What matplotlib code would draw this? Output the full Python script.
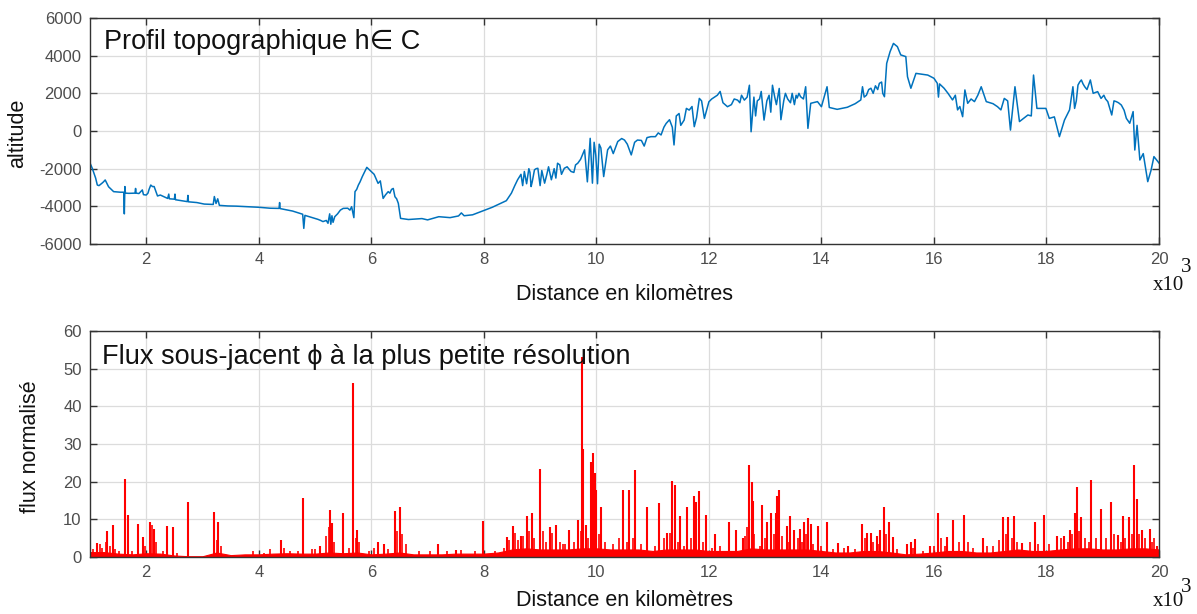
# -*- coding: utf-8 -*-
import numpy as np
import matplotlib
matplotlib.use('Agg')
import matplotlib.pyplot as plt
from matplotlib import rcParams

rcParams.update({'font.size': 10,
                 'font.family': ['Liberation Sans', 'DejaVu Sans'],
                 'axes.unicode_minus': False})

#-topographic profile (distance in 10^3 km, altitude in m)
prof_x = [1.00, 1.04, 1.10, 1.13, 1.21, 1.27, 1.33, 1.42, 1.54, 1.60, 1.61, 1.62, 1.63, 1.69,
          1.80, 1.81, 1.82, 1.87, 1.93, 1.95, 2.00, 2.05, 2.08, 2.14, 2.20, 2.38, 2.40, 2.41,
          2.50, 2.51, 2.52, 2.73, 2.74, 2.75, 3.03, 3.19, 3.21, 3.24, 3.27, 3.30, 3.60, 4.00,
          4.36, 4.37, 4.38, 4.60, 4.78, 4.80, 4.82, 5.05, 5.14, 5.20, 5.23, 5.26, 5.28, 5.30,
          5.32, 5.35, 5.50, 5.65, 5.69, 5.71, 5.77, 5.84, 5.92, 6.00, 6.12, 6.21, 6.30, 6.36,
          6.42, 6.48, 6.52, 6.66, 6.90, 7.20, 7.55, 7.60, 7.65, 8.00, 8.31, 8.49, 8.60, 8.72,
          8.76, 8.80, 8.84, 8.90, 8.96, 9.00, 9.08, 9.15, 9.20, 9.31, 9.43, 9.55, 9.67, 9.79,
          9.89, 9.93, 9.96, 10.02, 10.08, 10.13, 10.20, 10.38, 10.50, 10.62, 10.73, 10.97,
          11.15, 11.24, 11.38, 11.47, 11.56, 11.65, 11.74, 11.83, 11.92, 12.00, 12.15, 12.33,
          12.51, 12.63, 12.72, 12.75, 12.86, 12.98, 13.13, 13.20, 13.25, 13.28, 13.40, 13.57,
          13.63, 13.72, 13.76, 13.81, 13.93, 14.00, 14.10, 14.14, 14.28, 14.46, 14.70, 14.73,
          14.80, 14.88, 15.03, 15.12, 15.16, 15.22, 15.28, 15.35, 15.41, 15.50, 15.53, 15.59,
          15.68, 15.89, 16.00, 16.06, 16.08, 16.10, 16.18, 16.33, 16.42, 16.51, 16.55, 16.60,
          16.72, 16.84, 16.93, 17.13, 17.19, 17.25, 17.31, 17.36, 17.44, 17.52, 17.67, 17.73,
          17.77, 17.83, 17.99, 18.05, 18.14, 18.23, 18.32, 18.41, 18.47, 18.50, 18.56, 18.62,
          18.68, 18.78, 18.83, 18.91, 18.97, 19.09, 19.16, 19.24, 19.33, 19.42, 19.48, 19.54,
          19.57, 19.61, 19.66, 19.72, 19.80, 19.86, 19.91, 19.98, 20.00]
prof_h = [-1700, -1980, -2500, -2870, -2780, -2600, -2960, -3220, -3250, -3250, -4400, -2950, -3300, -3310,
          -3300, -3050, -3300, -3320, -3130, -3380, -3400, -3100, -2870, -2950, -3450, -3580, -3350, -3600,
          -3620, -3350, -3650, -3750, -3420, -3760, -3880, -3900, -3480, -3850, -3600, -3950, -3990, -4050,
          -4110, -3800, -4120, -4250, -4420, -5170, -4480, -4690, -4810, -4750, -4900, -4400, -4950, -4500,
          -4850, -4550, -4110, -4020, -4600, -3220, -2870, -2420, -1930, -2160, -2780, -3580, -3220, -3100,
          -3490, -3840, -4640, -4700, -4650, -4550, -4510, -4350, -4500, -4220, -3830, -3300, -2590, -2150,
          -2800, -2000, -2950, -2060, -1980, -2900, -2770, -1900, -2590, -1710, -1980, -2150, -1710, -1000,
          -390, -2770, -600, -2800, -900, -2420, -1000, -560, -480, -1270, -480, -300,
          -210, 400, -740, 930, 580, 1110, 230, 1730, 670, 1550, 1900, 1290,
          1640, 1640, 2430, -40, 1600, 580, 2430, 1400, 2260, 600, 1700, 1750,
          1820, 2350, 140, 1470, 1560, 1290, 2350, 1250, 1150, 1260, 1650, 2350,
          1900, 2270, 2530, 1820, 3590, 4210, 4650, 4480, 4040, 3950, 2880, 2270,
          3060, 2970, 2800, 2530, 1800, 2500, 2270, 1650, 1120, 760, 2180, 1470,
          1560, 2350, 1560, 1290, 1120, 1730, 1600, 50, 2350, 500, 850, 800,
          2970, 1200, 1200, 670, 750, -300, 580, 1120, 2350, 1200, 2440, 2710,
          2350, 2710, 2000, 2090, 1730, 1560, 850, 1560, 1380, 670, 410, 1030,
          -1010, 300, -1540, -1200, -2690, -2070, -1360, -1630, -1700]

#-extra small wiggles of the profile read at a finer scale
detail_x = [1.16, 1.24, 2.03, 2.11, 2.25, 2.90, 3.45, 3.80, 4.20, 5.10, 5.40, 5.45, 5.58, 5.62,
            5.74, 5.80, 6.05, 6.16, 6.25, 6.33, 6.39, 6.45, 7.00, 7.40, 7.80, 8.15, 8.40, 8.55,
            8.66, 8.69, 8.82, 8.86, 8.93, 9.03, 9.12, 9.25, 9.28, 9.35, 9.38, 9.48, 9.60, 9.63,
            9.72, 9.84, 9.99, 10.05, 10.25, 10.30, 10.45, 10.55, 10.68, 10.80, 10.85, 10.90,
            11.05, 11.10, 11.20, 11.30, 11.35, 11.42, 11.50, 11.60, 11.70, 11.78, 11.87, 12.05,
            12.10, 12.20, 12.25, 12.40, 12.45, 12.55, 12.58, 12.68, 12.80, 12.83, 12.90, 12.93,
            13.03, 13.07, 13.10, 13.17, 13.33, 13.36, 13.45, 13.48, 13.52, 13.55, 13.60, 13.68,
            14.60, 14.76, 14.84, 14.92, 14.96, 15.00, 15.07, 15.09, 16.25, 16.38, 16.46, 16.66,
            16.78, 17.05, 18.53, 18.59, 18.65, 18.72, 19.02, 19.05, 19.20, 19.28, 19.38]
detail_h = [-2900, -2700, -3300, -2950, -3400, -3800, -3980, -4020, -4100, -4750, -4400, -4200, -4100, -4200,
            -3100, -2700, -2300, -2650, -3400, -3300, -3050, -3600, -4720, -4600, -4450, -4050, -3700, -2900,
            -2300, -2900, -2200, -2700, -2000, -2100, -2300, -2000, -2500, -1800, -2300, -1900, -2200, -1800,
            -1500, -2700, -1300, -700, -800, -1200, -400, -700, -600, -500, -800, -350,
            -300, -100, 200, 600, 200, 800, 300, 1200, 1300, 700, 1600, 1700,
            1800, 2100, 1500, 1400, 1700, 1500, 1900, 1800, 1800, 800, 1700, 2100,
            1600, 1900, 1000, 1800, 1600, 2000, 1500, 2000, 1400, 1900, 2000, 1700,
            1450, 1800, 2200, 2000, 2400, 2200, 2600, 2000, 2000, 1900, 1300, 1700,
            1900, 1450, 1600, 2600, 2500, 2200, 1900, 1700, 1600, 1500, 1100]

#-flux: large peaks
peak_x = [1.00, 1.12, 1.31, 1.41, 1.62, 1.67, 1.86, 1.94, 2.06, 2.14, 2.37, 2.47, 2.74, 3.21,
          3.28, 4.40, 4.79, 5.08, 5.27, 5.30, 5.49, 5.68, 5.74, 6.12, 6.22, 6.42, 6.51, 7.18,
          7.50, 7.98, 8.41, 8.51, 8.66, 8.76, 8.85, 8.99, 9.17, 9.28, 9.51, 9.68, 9.75, 9.76,
          9.82, 9.90, 9.94, 9.98, 10.00, 10.08, 10.47, 10.58, 10.69, 10.90, 11.12, 11.26, 11.34,
          11.39, 11.48, 11.61, 11.73, 11.77, 11.83, 11.95, 12.11, 12.36, 12.48, 12.60, 12.71,
          12.76, 12.78, 12.95, 13.04, 13.11, 13.19, 13.21, 13.24, 13.38, 13.45, 13.52, 13.62,
          13.69, 13.76, 13.81, 13.94, 14.10, 14.30, 14.47, 14.73, 14.81, 14.88, 14.98, 15.05,
          15.11, 15.20, 15.27, 15.52, 15.59, 15.67, 15.93, 16.07, 16.24, 16.34, 16.54, 16.88,
          17.22, 17.32, 17.43, 17.56, 17.79, 17.96, 18.18, 18.31, 18.41, 18.50, 18.55, 18.61,
          18.80, 18.97, 19.14, 19.28, 19.36, 19.46, 19.56, 19.61, 19.69, 19.84, 19.96]
peak_v = [2.4, 3.7, 7.0, 8.6, 20.7, 11.2, 8.8, 5.3, 9.4, 7.4, 8.1, 7.9, 14.7, 12.0,
          9.4, 4.6, 15.6, 3.0, 12.4, 9.0, 11.6, 46.1, 7.2, 4.1, 3.5, 12.2, 13.2, 3.4,
          1.9, 9.6, 5.3, 8.1, 5.6, 10.9, 11.8, 23.3, 7.9, 8.5, 7.2, 9.9, 53.0, 28.6,
          8.6, 25.3, 27.7, 22.2, 17.8, 13.4, 17.7, 17.7, 23.0, 13.4, 14.3, 6.4, 20.3,
          19.2, 10.9, 13.4, 16.1, 14.7, 17.4, 11.2, 6.1, 9.2, 7.2, 5.0, 24.4,
          20.0, 15.0, 13.9, 9.4, 11.6, 11.6, 16.1, 17.7, 8.3, 10.9, 7.2, 7.4,
          9.2, 10.3, 8.8, 8.3, 9.4, 3.7, 2.8, 8.8, 6.4, 6.5, 5.5, 7.2,
          13.4, 9.2, 5.3, 3.5, 4.1, 4.8, 3.0, 11.6, 5.2, 9.9, 11.2, 5.0,
          10.6, 10.6, 10.8, 3.7, 9.2, 11.2, 5.5, 5.5, 7.2, 11.6, 18.5, 10.6,
          20.5, 12.7, 14.7, 5.9, 10.8, 10.6, 24.4, 15.4, 7.1, 7.4, 2.8]

#-flux: small peaks in the background
small_x = [1.05, 1.18, 1.22, 1.28, 1.35, 1.45, 1.52, 1.75, 1.98, 2.10, 2.18, 2.30, 2.55, 3.25,
           3.32, 3.90, 4.10, 4.20, 4.45, 4.55, 4.70, 4.95, 5.00, 5.20, 5.24, 5.33, 5.60, 5.72,
           5.78, 5.95, 6.05, 6.30, 6.45, 6.55, 6.62, 6.85, 7.05, 7.35, 7.60, 7.85, 8.20, 8.35,
           8.45, 8.55, 8.60, 8.70, 8.80, 8.90, 9.05, 9.10, 9.22, 9.35, 9.40, 9.45, 9.60, 9.72,
           9.86, 10.05, 10.15, 10.30, 10.40, 10.55, 10.65, 10.80, 11.05, 11.20, 11.30, 11.45,
           11.55, 11.68, 11.90, 12.05, 12.20, 12.65, 12.68, 12.80, 12.90, 13.00, 13.15, 13.30,
           13.42, 13.58, 13.65, 13.72, 13.85, 14.00, 14.20, 14.40, 14.60, 14.77, 14.92, 15.00,
           15.15, 15.35, 15.62, 15.80, 16.00, 16.12, 16.20, 16.45, 16.60, 16.70, 16.95, 17.05,
           17.15, 17.28, 17.38, 17.48, 17.70, 17.85, 18.05, 18.25, 18.38, 18.45, 18.58, 18.68,
           18.75, 18.88, 19.05, 19.20, 19.32, 19.40, 19.52, 19.65, 19.75, 19.88, 19.92]
small_v = [2.0, 3.5, 2.5, 4.0, 3.0, 2.0, 1.5, 1.5, 3.0, 8.5, 4.0, 1.5, 1.0, 4.5,
           3.0, 1.5, 1.0, 2.0, 2.5, 1.5, 1.5, 2.0, 2.0, 5.5, 8.0, 4.0, 2.5, 5.0,
           4.0, 1.5, 2.5, 2.0, 7.0, 6.0, 3.5, 1.5, 1.5, 1.5, 1.8, 1.5, 1.5, 2.5,
           4.5, 6.5, 4.5, 5.5, 7.0, 5.0, 7.0, 4.0, 6.5, 4.0, 3.5, 3.5, 4.0, 7.0,
           5.0, 6.0, 4.0, 3.5, 5.0, 4.0, 5.0, 3.5, 3.0, 5.0, 6.5, 4.0,
           3.0, 5.0, 4.0, 2.5, 3.0, 5.5, 8.0, 6.0, 3.0, 5.0, 6.0, 5.5,
           4.0, 5.0, 4.0, 6.0, 3.5, 3.0, 2.0, 2.5, 2.0, 5.0, 4.0, 3.5,
           6.0, 2.0, 2.5, 1.5, 3.0, 5.0, 3.0, 4.0, 4.0, 2.5, 3.0, 3.0,
           4.5, 6.0, 5.0, 4.0, 4.0, 3.5, 3.5, 5.0, 4.0, 6.0, 7.0, 5.0,
           4.0, 5.0, 5.0, 6.0, 4.0, 5.0, 6.0, 6.0, 5.0, 4.0, 5.0]

#-flux: height of the dense background noise band
band_x = [1.00, 1.25, 1.50, 1.75, 2.00, 2.25, 2.50, 2.75, 3.00, 3.25, 3.50, 3.75, 4.00, 4.25,
          4.50, 4.75, 5.00, 5.25, 5.50, 5.75, 6.00, 6.25, 6.50, 6.75, 7.00, 7.25, 7.50, 7.75,
          8.00, 8.25, 8.50, 8.75, 9.00, 9.25, 9.50, 9.75, 10.00, 10.25, 10.50, 10.75, 11.00,
          11.25, 11.50, 11.75, 12.00, 12.25, 12.50, 12.75, 13.00, 13.25, 13.50, 13.75, 14.00,
          14.25, 14.50, 14.75, 15.00, 15.25, 15.50, 15.75, 16.00, 16.25, 16.50, 16.75, 17.00,
          17.25, 17.50, 17.75, 18.00, 18.25, 18.50, 18.75, 19.00, 19.25, 19.50, 19.75, 20.00]
band_v = [1.3, 1.3, 0.9, 0.7, 1.0, 0.9, 0.4, 0.2, 0.2, 1.2, 0.5, 0.7, 0.7, 0.9,
          1.0, 0.9, 0.9, 1.2, 1.0, 1.2, 0.7, 0.9, 1.2, 0.7, 0.7, 0.7, 0.9, 0.9,
          0.9, 1.2, 2.0, 2.3, 2.0, 2.0, 2.0, 2.3, 2.3, 2.0, 2.0, 2.0, 1.6,
          2.0, 2.0, 2.0, 1.6, 1.6, 1.6, 2.3, 2.0, 2.0, 2.0, 2.0, 1.6,
          1.2, 1.2, 1.6, 1.6, 1.2, 0.7, 0.9, 1.2, 1.6, 1.6, 1.2, 1.2,
          1.6, 2.0, 1.6, 1.6, 2.0, 2.3, 2.3, 2.0, 2.0, 2.3, 2.3, 2.0]

x_ticks = [2, 4, 6, 8, 10, 12, 14, 16, 18, 20]

blue = '#0072BD'
red = '#FF0000'
tick_col = '#4d4d4d'
grid_col = '#dcdcdc'


def style_axes(ax):
    '''MATLAB-like box with inward ticks on all four sides and a light grid.'''
    ax.set_xlim(1, 20)
    ax.set_xticks(x_ticks)
    ax.grid(True, color=grid_col, linewidth=0.9)
    ax.set_axisbelow(True)
    ax.tick_params(direction='in', length=5, width=1, top=True, right=True,
                   labelsize=12, labelcolor=tick_col, color='#333333', pad=6)
    for s in ax.spines.values():
        s.set_color('#333333')
        s.set_linewidth(1.0)


fig = plt.figure(figsize=(11.97, 6.14), dpi=100)
W, H = 1197., 614.

#-top panel: topography (main reading + finer wiggles, ordered by distance)
px = np.concatenate([prof_x, detail_x])
ph = np.concatenate([prof_h, detail_h])
order = np.argsort(px, kind='stable')

ax1 = fig.add_axes([90 / W, 1 - 244 / H, 1069 / W, 226 / H])
ax1.plot(px[order], ph[order], color=blue, linewidth=1.1)
ax1.set_ylim(-6000, 6000)
ax1.set_yticks(np.arange(-6000, 6001, 2000))
style_axes(ax1)
ax1.text(0.013, 0.895, u'Profil topographique h\u2208 C', transform=ax1.transAxes,
         fontsize=19.5, va='center', ha='left', color='#111111')

#-bottom panel: flux
ax2 = fig.add_axes([90 / W, 1 - 557 / H, 1069 / W, 226 / H])
ax2.fill_between(band_x, 0, band_v, color=red, linewidth=0.8)
ax2.vlines(small_x, 0, small_v, color=red, linewidth=1.2)
ax2.vlines(peak_x, 0, peak_v, color=red, linewidth=1.5)
ax2.set_ylim(0, 60)
ax2.set_yticks(np.arange(0, 61, 10))
style_axes(ax2)
ax2.text(0.011, 0.885, u'Flux sous-jacent \u03d5 \u00e0 la plus petite r\u00e9solution',
         transform=ax2.transAxes, fontsize=19.5, va='center', ha='left', color='#111111')

#-labels
fig.text(18 / W, 1 - 133 / H, 'altitude', rotation=90, ha='center', va='center',
         fontsize=15.5, color='#111111')
fig.text(30 / W, 1 - 447 / H, u'flux normalis\u00e9', rotation=90, ha='center', va='center',
         fontsize=15.5, color='#111111')
for yl, yx, ye in [(295, 286, 267), (601, 602, 588)]:
    fig.text(624 / W, 1 - yl / H, u'Distance en kilom\u00e8tres', ha='center', va='center',
             fontsize=15.5, color='#111111')
    fig.text(1168 / W, 1 - yx / H, 'x10', ha='center', va='center', fontsize=15,
             family='Liberation Serif', color='#111111')
    fig.text(1186 / W, 1 - ye / H, '3', ha='center', va='center', fontsize=15,
             family='Liberation Serif', color='#111111')

fig.savefig('out.png', dpi=100)
